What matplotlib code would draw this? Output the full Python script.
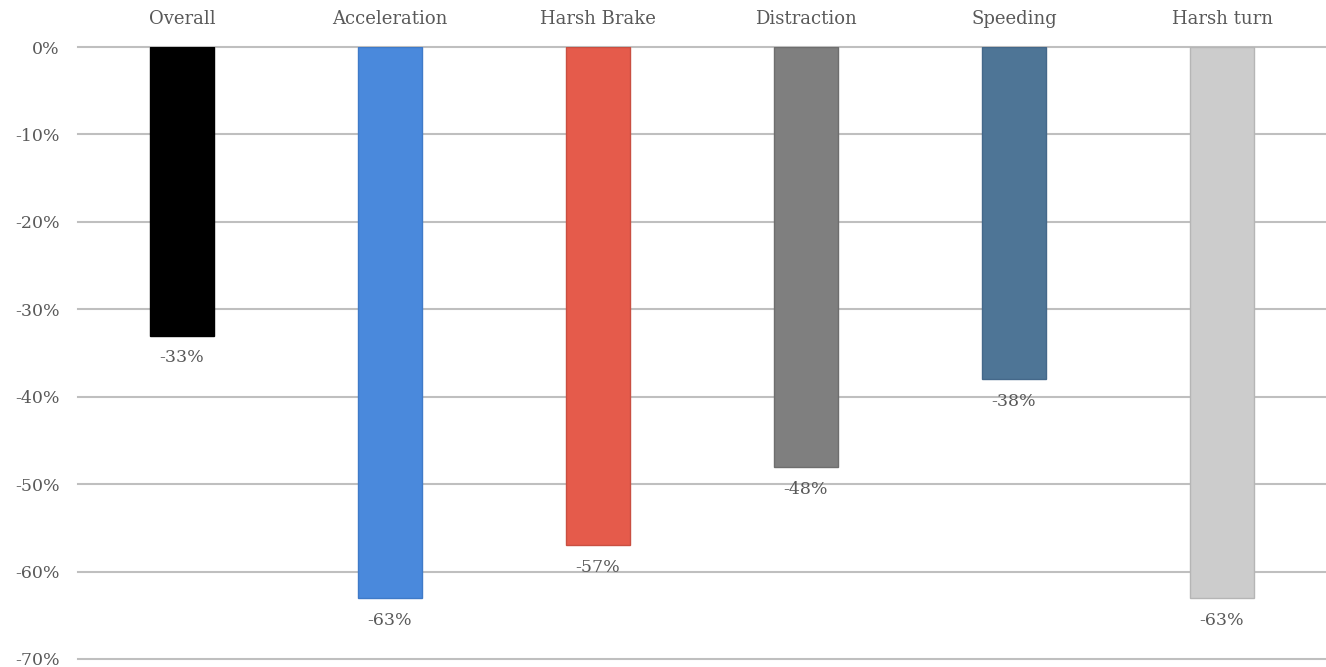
import matplotlib
matplotlib.use("Agg")
import matplotlib.pyplot as plt
from matplotlib.ticker import FuncFormatter

categories = ["Overall", "Acceleration", "Harsh Brake", "Distraction", "Speeding", "Harsh turn"]
changes = [-33, -63, -57, -48, -38, -63]
colors = ["#000000", "#4A89DC", "#E55B4B", "#7F7F7F", "#4E7596", "#CCCCCC"]
edge_colors = ["#000000", "#3F7AC8", "#C94F41", "#6E6E6E", "#44688A", "#B5B5B5"]
yticks = [0, -10, -20, -30, -40, -50, -60, -70]

text_color = "#595959"
grid_color = "#BFBFBF"
plt.rcParams["font.family"] = ["DejaVu Serif"]

fig = plt.figure(figsize=(13.26, 6.67), dpi=100)
ax = fig.add_axes([78 / 1326, 1 - 659 / 667, 1 - 78 / 1326, (659 - 47) / 667])

x = list(range(len(categories)))
bars = ax.bar(x, changes, width=0.31, color=colors, edgecolor=edge_colors,
              linewidth=1.0, zorder=3)

for xi, v in zip(x, changes):
    ax.annotate(f"{v}%", xy=(xi, v), xytext=(0, -10), textcoords="offset points",
                ha="center", va="top", fontsize=12.5, color=text_color)

ax.set_xlim(-0.5, len(categories) - 0.5)
ax.set_ylim(-70, 0)
ax.set_yticks(yticks)
ax.yaxis.set_major_formatter(FuncFormatter(lambda v, p: f"{int(round(v))}%"))
ax.yaxis.grid(True, color=grid_color, linewidth=1.5, zorder=0)
for gl in ax.get_ygridlines():
    gl.set_clip_on(False)
ax.tick_params(axis="y", length=0, pad=13, labelsize=12.5, labelcolor=text_color)

ax.xaxis.tick_top()
ax.set_xticks(x)
ax.set_xticklabels(categories)
ax.tick_params(axis="x", length=0, pad=14, labelsize=13, labelcolor=text_color)

for s in ax.spines.values():
    s.set_visible(False)

fig.savefig("out.png", dpi=100)
